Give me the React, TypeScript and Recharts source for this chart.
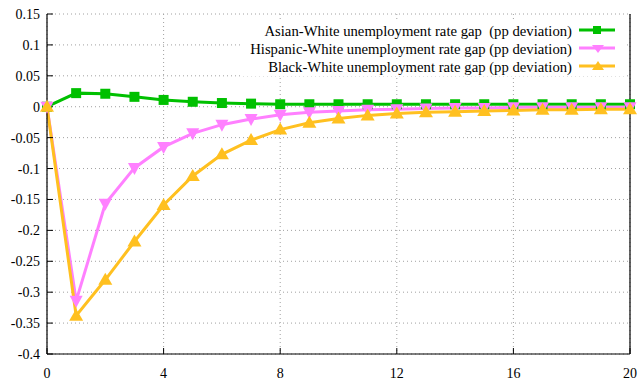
import React from 'react';
import { LineChart, Line, XAxis, YAxis, CartesianGrid } from 'recharts';

const periods = [0, 1, 2, 3, 4, 5, 6, 7, 8, 9, 10, 11, 12, 13, 14, 15, 16, 17, 18, 19, 20];
const asianGap = [0, 0.022, 0.021, 0.016, 0.011, 0.008, 0.006, 0.005, 0.004, 0.004, 0.004, 0.004, 0.004, 0.004, 0.004, 0.004, 0.004, 0.004, 0.004, 0.004, 0.004];
const hispanicGap = [0, -0.314, -0.157, -0.099, -0.065, -0.043, -0.029, -0.02, -0.013, -0.009, -0.007, -0.005, -0.004, -0.003, -0.002, -0.002, -0.001, -0.001, -0.001, -0.001, -0.001];
const blackGap = [0, -0.338, -0.28, -0.218, -0.159, -0.112, -0.077, -0.054, -0.037, -0.026, -0.019, -0.014, -0.011, -0.009, -0.008, -0.007, -0.006, -0.005, -0.005, -0.004, -0.004];
const xTicks = [0, 4, 8, 12, 16, 20];
const yTicks = [-0.4, -0.35, -0.3, -0.25, -0.2, -0.15, -0.1, -0.05, 0, 0.05, 0.1, 0.15];
const seriesLabels = [
  'Asian-White unemployment rate gap  (pp deviation)',
  'Hispanic-White unemployment rate gap (pp deviation)',
  'Black-White unemployment rate gap (pp deviation)',
];

const GREEN = '#00c000';
const PINK = '#ff80ff';
const ORANGE = '#ffc020';

const data = periods.map((p, i) => ({ t: p, asian: asianGap[i], hispanic: hispanicGap[i], black: blackGap[i] }));

const FONT = '"Liberation Serif", "Times New Roman", "DejaVu Serif", serif';

const fmt = (v: number) => String(Math.round(v * 100) / 100);

const Square = (props: any) => {
  const { cx, cy } = props;
  if (cx == null || cy == null) return null;
  return <rect x={cx - 5} y={cy - 5} width={10} height={10} fill={GREEN} />;
};
const DownTri = (props: any) => {
  const { cx, cy } = props;
  if (cx == null || cy == null) return null;
  return <path d={`M${cx - 6.5},${cy - 5} L${cx + 6.5},${cy - 5} L${cx},${cy + 7} Z`} fill={PINK} />;
};
const UpTri = (props: any) => {
  const { cx, cy } = props;
  if (cx == null || cy == null) return null;
  return <path d={`M${cx - 7},${cy + 5} L${cx + 7},${cy + 5} L${cx},${cy - 7} Z`} fill={ORANGE} />;
};

const legendRows = [
  { label: seriesLabels[0], color: GREEN, kind: 'sq' },
  { label: seriesLabels[1], color: PINK, kind: 'down' },
  { label: seriesLabels[2], color: ORANGE, kind: 'up' },
];

const tickFont = { fill: '#000', fontSize: 14, fontFamily: FONT };

export default function App() {
  return (
    <div style={{ position: 'absolute', left: 0, top: 0, width: 639, height: 381, background: '#fff' }}>
      <LineChart width={639} height={381} data={data} margin={{ top: 14, right: 4, bottom: 0, left: 0 }}>
        <CartesianGrid stroke="#a0a0a0" strokeDasharray="1 3" strokeWidth={1} />
        <XAxis
          dataKey="t"
          type="number"
          domain={[0, 20]}
          ticks={xTicks}
          height={27}
          axisLine={{ stroke: '#000', strokeWidth: 1.2 }}
          tickLine={{ stroke: '#000' }}
          tickSize={-6}
          tickMargin={20}
          tick={tickFont}
          interval={0}
        />
        <XAxis
          xAxisId="top"
          orientation="top"
          dataKey="t"
          type="number"
          domain={[0, 20]}
          ticks={xTicks}
          height={0}
          axisLine={{ stroke: '#000', strokeWidth: 1.2 }}
          tickLine={{ stroke: '#000' }}
          tickSize={-6}
          tick={false}
          interval={0}
        />
        <YAxis
          type="number"
          domain={[-0.4, 0.15]}
          ticks={yTicks}
          width={47}
          axisLine={{ stroke: '#000', strokeWidth: 1.2 }}
          tickLine={{ stroke: '#000' }}
          tickSize={-6}
          tickMargin={13}
          tickFormatter={fmt}
          tick={tickFont}
          interval={0}
          allowDataOverflow
        />
        <YAxis
          yAxisId="right"
          orientation="right"
          type="number"
          domain={[-0.4, 0.15]}
          ticks={yTicks}
          width={5}
          axisLine={{ stroke: '#000', strokeWidth: 1.2 }}
          tickLine={{ stroke: '#000' }}
          tickSize={-6}
          tick={false}
          interval={0}
        />
        <Line dataKey="asian" stroke={GREEN} strokeWidth={3} dot={<Square />} isAnimationActive={false} />
        <Line dataKey="hispanic" stroke={PINK} strokeWidth={3} dot={<DownTri />} isAnimationActive={false} />
        <Line dataKey="black" stroke={ORANGE} strokeWidth={3} dot={<UpTri />} isAnimationActive={false} />
      </LineChart>
      <svg width={639} height={381} style={{ position: 'absolute', left: 0, top: 0, pointerEvents: 'none' }}>
        <rect x={242} y={21} width={384} height={55} fill="#fff" />
        {legendRows.map((r, i) => {
          const y = 30 + i * 18;
          return (
            <g key={i}>
              <text
                x={572}
                y={y + 1}
                textAnchor="end"
                dominantBaseline="central"
                fontFamily={FONT}
                fontSize={14.7}
                fill="#000"
                style={{ whiteSpace: 'pre' }}
              >
                {r.label}
              </text>
              <line x1={579} x2={615} y1={y} y2={y} stroke={r.color} strokeWidth={3} />
              {r.kind === 'sq' && <rect x={593} y={y - 4} width={8} height={8} fill={r.color} />}
              {r.kind === 'down' && <path d={`M${592},${y - 3} L${604},${y - 3} L${598},${y + 5} Z`} fill={r.color} />}
              {r.kind === 'up' && <path d={`M${592},${y + 4} L${604},${y + 4} L${598},${y - 5} Z`} fill={r.color} />}
            </g>
          );
        })}
      </svg>
    </div>
  );
}
